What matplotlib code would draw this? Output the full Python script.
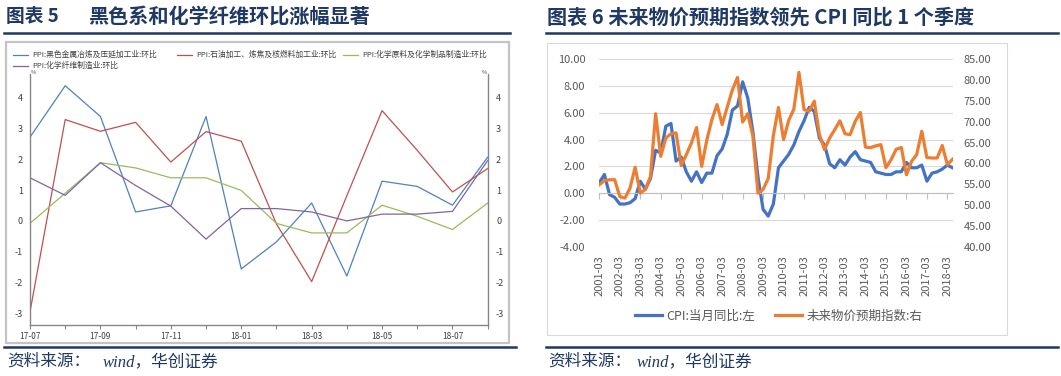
"""
Two panels: PPI month-on-month by sector (left), CPI vs. price expectation index (right).
"""
import numpy as np
import matplotlib
matplotlib.use("Agg")
import matplotlib.pyplot as plt
from matplotlib.lines import Line2D
from matplotlib.patches import Rectangle
from matplotlib.ticker import FormatStrFormatter

plt.rcParams['font.family'] = ['Noto Sans CJK SC', 'DejaVu Sans']
plt.rcParams['axes.unicode_minus'] = False

#########
# Data, left panel (monthly, %)
months = ['17-07', '17-08', '17-09', '17-10', '17-11', '17-12', '18-01',
          '18-02', '18-03', '18-04', '18-05', '18-06', '18-07', '18-08']
ppi_black = [2.72, 4.39, 3.39, 0.29, 0.49, 3.39, -1.56, -0.68, 0.58, -1.79, 1.29, 1.12, 0.51, 2.07]
ppi_oil = [-2.95, 3.29, 2.91, 3.2, 1.91, 2.9, 2.59, -0.1, -1.97, 0.82, 3.58, 2.29, 0.94, 1.7]
ppi_chem = [-0.08, 0.9, 1.89, 1.72, 1.4, 1.4, 0.99, -0.08, -0.39, -0.39, 0.51, 0.15, -0.28, 0.58]
ppi_fiber = [1.4, 0.83, 1.89, 1.15, 0.48, -0.59, 0.4, 0.4, 0.29, 0.0, 0.22, 0.22, 0.31, 1.96]
left_names = ['PPI:黑色金属冶炼及压延加工业:环比', 'PPI:石油加工、炼焦及核燃料加工业:环比',
              'PPI:化学原料及化学制品制造业:环比', 'PPI:化学纤维制造业:环比']

# Data, right panel (quarterly, 2001-03 .. 2018-06)
year_labels = ['2001-03', '2002-03', '2003-03', '2004-03', '2005-03', '2006-03',
               '2007-03', '2008-03', '2009-03', '2010-03', '2011-03', '2012-03',
               '2013-03', '2014-03', '2015-03', '2016-03', '2017-03', '2018-03']
cpi = [0.8, 1.4, -0.1, -0.3, -0.8, -0.8, -0.7, -0.4, 0.9, 0.3, 1.1, 3.2,
       3.0, 5.0, 5.2, 2.4, 2.7, 1.6, 0.9, 1.6, 0.8, 1.5, 1.5, 2.8,
       3.3, 4.4, 6.2, 6.5, 8.3, 7.1, 4.6, 1.2, -1.2, -1.7, -0.8, 1.9,
       2.4, 2.9, 3.6, 4.6, 5.4, 6.4, 6.1, 4.1, 3.6, 2.2, 1.9, 2.5,
       2.1, 2.7, 3.1, 2.5, 2.4, 2.3, 1.6, 1.5, 1.4, 1.4, 1.6, 1.6,
       2.3, 1.9, 1.9, 2.1, 0.9, 1.5, 1.6, 1.8, 2.1, 1.9]
expect = [54.9, 55.9, 56.1, 56.1, 52.1, 51.7, 54.1, 59.1, 52.9, 53.8,
          56.9, 71.9, 61.7, 66.1, 67.1, 67.3, 59.5, 62.1, 64.9, 68.6,
          59.3, 65.6, 70.5, 74.1, 69.3, 73.5, 77.6, 80.6, 69.9, 71.9,
          66.6, 52.9, 53.8, 56.4, 66.7, 73.4, 65.7, 70.3, 73.0, 81.8,
          72.9, 72.5, 74.9, 66.9, 63.3, 66.1, 68.1, 70.2, 67.1, 66.9,
          70.1, 72.2, 63.9, 63.8, 64.2, 64.5, 59.0, 60.9, 63.4, 63.8,
          57.3, 60.5, 62.1, 67.7, 61.4, 61.3, 61.3, 64.3, 59.7, 61.0]

W, H = 1061, 376
navy = '#1f3864'
gray_txt = '#595959'

def fx(px):
    return px / W

def fy(py):
    return 1 - py / H

def box(x0, y0, x1, y1):
    return [fx(x0), fy(y1), fx(x1) - fx(x0), fy(y0) - fy(y1)]

fig = plt.figure(figsize=(W / 100, H / 100), dpi=100)

# frames, rules, titles, sources
fig.add_artist(Rectangle((fx(6), fy(343)), fx(509) - fx(6), fy(42) - fy(343),
                         transform=fig.transFigure, fill=False, ec='#c4c4c4', lw=1.6))
fig.add_artist(Rectangle((fx(546.7), fy(335)), fx(1006.7) - fx(546.7), fy(43.3) - fy(335),
                         transform=fig.transFigure, fill=False, ec='#d9d9d9', lw=0.8))
for x0, x1, y in [(4, 510, 32.7), (4, 516, 346.5), (546, 1058, 32.7), (546, 1058, 346.7)]:
    fig.add_artist(Line2D([fx(x0), fx(x1)], [fy(y), fy(y)], color=navy, lw=1.8))

fig.text(fx(6), fy(16), '图表 5', fontsize=13.5, weight='bold', color=navy, va='center')
fig.text(fx(88), fy(16), '黑色系和化学纤维环比涨幅显著', fontsize=14.5, weight='bold', color=navy, va='center')
fig.text(fx(546.7), fy(17), '图表 6 未来物价预期指数领先 CPI 同比 1 个季度', fontsize=14.5,
         weight='bold', color=navy, va='center')

src_font = ['Liberation Serif', 'Noto Sans CJK SC']
fig.text(fx(7), fy(362), '资料来源：', fontsize=12, color=navy, va='center', style='italic', family=src_font)
fig.text(fx(103), fy(362), 'wind，华创证券', fontsize=12, color=navy, va='center', style='italic', family=src_font)
fig.text(fx(548), fy(362), '资料来源：', fontsize=12, color=navy, va='center', style='italic', family=src_font)
fig.text(fx(637), fy(362), 'wind，华创证券', fontsize=12, color=navy, va='center', style='italic', family=src_font)

#########
# LEFT PANEL
left_colors = ['#4f81bd', '#c0504d', '#9bbb59', '#8064a2']
series = [ppi_black, ppi_oil, ppi_chem, ppi_fiber]
x = np.arange(len(months))

ax1 = fig.add_axes(box(30, 74, 487.7, 325))
for s, c in zip(series, left_colors):
    ax1.plot(x, s, color=c, lw=0.9)
ax1.set_xlim(0, len(months) - 1)
ax1.set_ylim(-3.38, 4.77)
ax1.set_yticks(range(-3, 5))
ax1.set_xticks(x)
ax1.set_xticklabels([m if i % 2 == 0 else '' for i, m in enumerate(months)])
ax1.tick_params(axis='x', length=3, width=0.8, color='#868686', labelsize=6,
                labelcolor='#404040', pad=2)
ax1.tick_params(axis='y', length=0, labelsize=6.5, labelcolor='#404040', pad=5)
ax1.spines['top'].set_visible(False)
for sp in ['left', 'bottom', 'right']:
    ax1.spines[sp].set_color('#868686')
    ax1.spines[sp].set_linewidth(1.0)

ax1r = ax1.twinx()
ax1r.set_ylim(ax1.get_ylim())
ax1r.set_yticks(range(-3, 5))
ax1r.tick_params(axis='y', length=0, labelsize=6.5, labelcolor='#404040', pad=6)
for sp in ['top', 'left', 'bottom', 'right']:
    ax1r.spines[sp].set_visible(False)

fig.text(fx(33), fy(75), '%', fontsize=4, color='#404040', va='bottom', ha='center')
fig.text(fx(484), fy(75), '%', fontsize=4, color='#404040', va='bottom', ha='center')

# legend of the left panel (two rows)
leg_pos = [(13, 55), (177, 55), (343, 55), (13, 66)]
for (lx, ly), c, name in zip(leg_pos, left_colors, left_names):
    fig.add_artist(Line2D([fx(lx), fx(lx + 15)], [fy(ly), fy(ly)], color=c, lw=0.9))
    fig.text(fx(lx + 19), fy(ly), name, fontsize=5.6, color='#404040', va='center')

#########
# RIGHT PANEL
q = np.arange(len(cpi))
ax2 = fig.add_axes(box(599.3, 59, 952.5, 247))
l1, = ax2.plot(q, cpi, color='#4472c4', lw=2.3, solid_joinstyle='round')
ax2.set_xlim(0, len(cpi) - 1)
ax2.set_ylim(-4, 10)
ax2.set_yticks(np.arange(-4, 11, 2))
ax2.yaxis.set_major_formatter(FormatStrFormatter('%.2f'))
ax2.grid(axis='y', color='#d9d9d9', lw=0.8)
ax2.set_axisbelow(True)
ax2.tick_params(axis='y', length=0, labelsize=8, labelcolor=gray_txt, pad=10)
for sp in ['top', 'left', 'right']:
    ax2.spines[sp].set_visible(False)
ax2.spines['bottom'].set_position(('data', 0))
ax2.spines['bottom'].set_color('#bfbfbf')
ax2.spines['bottom'].set_linewidth(0.8)
ax2.set_xticks(np.arange(0, len(cpi), 4))
ax2.set_xticklabels([])
ax2.tick_params(axis='x', direction='out', length=4, width=0.8, color='#bfbfbf')

sec = ax2.secondary_xaxis('bottom')
sec.set_xticks(np.arange(0, len(cpi), 4))
sec.set_xticklabels(year_labels, rotation=90)
sec.tick_params(length=0, labelsize=8, labelcolor=gray_txt, pad=6)
sec.spines['bottom'].set_visible(False)

ax2r = ax2.twinx()
l2, = ax2r.plot(q, expect, color='#ed7d31', lw=2.3, solid_joinstyle='round')
ax2r.set_ylim(40, 85)
ax2r.set_yticks(np.arange(40, 86, 5))
ax2r.yaxis.set_major_formatter(FormatStrFormatter('%.2f'))
ax2r.tick_params(axis='y', length=0, labelsize=8, labelcolor=gray_txt, pad=8)
for sp in ['top', 'left', 'bottom', 'right']:
    ax2r.spines[sp].set_visible(False)

fig.legend([l1, l2], ['CPI:当月同比:左', '未来物价预期指数:右'], loc='center',
           bbox_to_anchor=(fx(778.5), fy(316)), ncol=2, frameon=False, fontsize=9,
           handlelength=2.2, handletextpad=0.3, columnspacing=1.6, labelcolor=gray_txt)

fig.savefig('out.png', dpi=100)
